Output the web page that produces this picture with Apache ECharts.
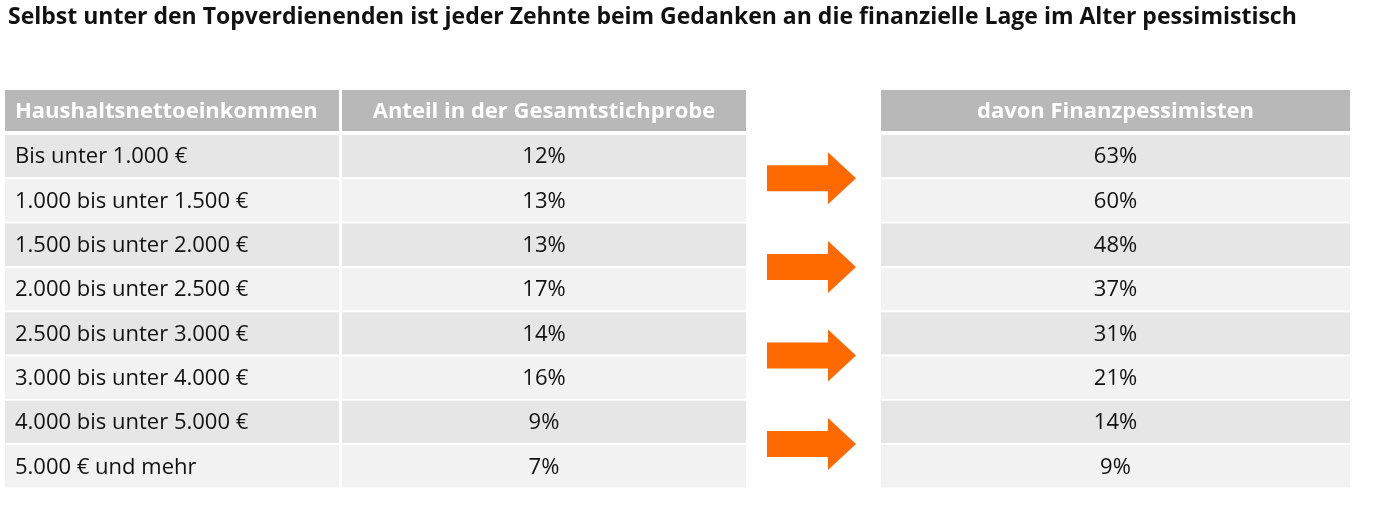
<!DOCTYPE html>
<html><head><meta charset="utf-8">
<script src="https://cdn.jsdelivr.net/npm/echarts@6/dist/echarts.min.js"></script>
<style>html,body{margin:0;background:#fff}#c{width:1374px;height:516px}</style>
</head><body><div id="c"></div>
<script>
// ===== Daten =====
const headers = ['Haushaltsnettoeinkommen', 'Anteil in der Gesamtstichprobe', 'davon Finanzpessimisten'];
const incomeClasses = ['Bis unter 1.000 €', '1.000 bis unter 1.500 €', '1.500 bis unter 2.000 €', '2.000 bis unter 2.500 €',
    '2.500 bis unter 3.000 €', '3.000 bis unter 4.000 €', '4.000 bis unter 5.000 €', '5.000 € und mehr'];
const shareTotal = [12, 13, 13, 17, 14, 16, 9, 7];
const sharePessimists = [63, 60, 48, 37, 31, 21, 14, 9];
const arrowAfterRow = [0, 2, 4, 6];

const FONT = '"Open Sans", sans-serif';
const cols = [[5, 339], [342, 746], [881, 1350]];
const rowTop = 135, rowH = 44.3, headTop = 90, headH = 41;

const chart = echarts.init(document.getElementById('c'));

function cellGroup(api, y0, h, texts, fill, head) {
    const children = [];
    cols.forEach(([a, b], j) => {
        const p = api.coord([a, y0]), q = api.coord([b, y0 + h]);
        children.push({ type: 'rect', shape: { x: p[0], y: p[1], width: q[0] - p[0], height: q[1] - p[1] - 2 },
            style: { fill: fill } });
        const left = j === 0;
        children.push({ type: 'text', style: {
            x: left ? p[0] + 10 : (p[0] + q[0]) / 2, y: (p[1] + q[1]) / 2,
            text: texts[j], align: left ? 'left' : 'center', verticalAlign: 'middle',
            font: (head ? 'bold ' : '') + '22px ' + FONT, fill: head ? '#fff' : '#111' } });
    });
    return { type: 'group', children };
}

chart.setOption({
    animation: false,
    title: { text: 'Selbst unter den Topverdienenden ist jeder Zehnte beim Gedanken an die finanzielle Lage im Alter pessimistisch',
        left: 3, top: 1, textStyle: { fontFamily: FONT, fontSize: 23, fontWeight: 'bold', color: '#111' } },
    grid: { left: 0, right: 0, top: 0, bottom: 0 },
    xAxis: { type: 'value', min: 0, max: 1374, show: false },
    yAxis: { type: 'value', min: 0, max: 516, inverse: true, show: false },
    series: [
        { type: 'custom', data: [0], renderItem: (p, api) => cellGroup(api, headTop, headH + 2, headers, '#b8b8b8', true) },
        { type: 'custom', data: incomeClasses.map((c, i) => [i]), renderItem: (p, api) => {
            const i = api.value(0);
            return cellGroup(api, rowTop + i * rowH, rowH,
                [incomeClasses[i], shareTotal[i] + '%', sharePessimists[i] + '%'], i % 2 ? '#f2f2f2' : '#e6e6e6', false);
        } },
        { type: 'custom', data: arrowAfterRow.map(r => [r]), renderItem: (p, api) => {
            const cy = rowTop + (api.value(0) + 1) * rowH - 1;
            const pts = [[767, cy - 13], [828, cy - 13], [828, cy - 26], [856, cy], [828, cy + 26], [828, cy + 13], [767, cy + 13]];
            return { type: 'polygon', shape: { points: pts.map(pt => api.coord(pt)) }, style: { fill: '#ff6a00' } };
        } }
    ]
});
</script></body></html>
